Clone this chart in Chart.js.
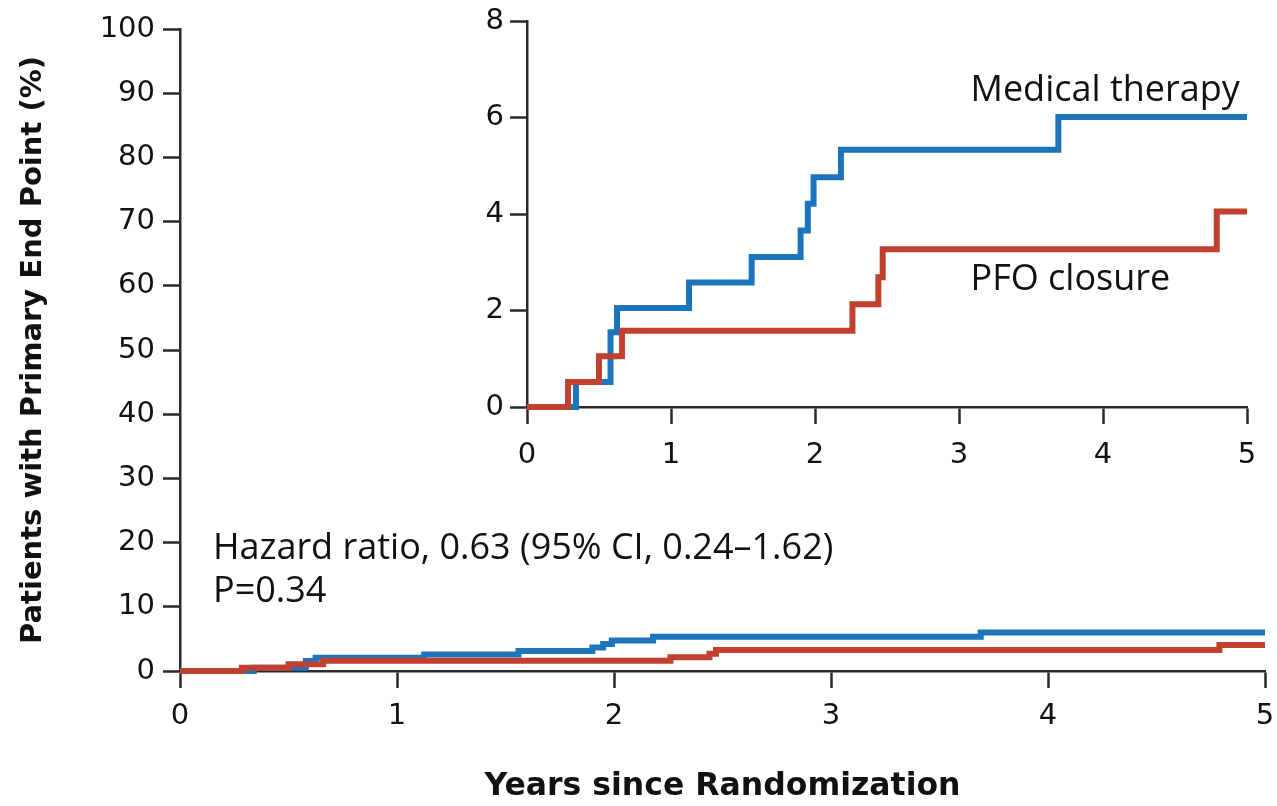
<!DOCTYPE html>
<html>
<head>
<meta charset="utf-8">
<script src="https://cdn.jsdelivr.net/npm/chart.js@4.4.1/dist/chart.umd.min.js"></script>
<style>
  html, body { margin: 0; padding: 0; background: #fff; }
  #wrap { position: relative; width: 1277px; height: 806px; }
  #mainChart { position: absolute; left: 0; top: 0; }
  #insetChart { position: absolute; left: 440px; top: 0; }
</style>
</head>
<body>
<div id="wrap">
  <canvas id="mainChart" width="1277" height="806"></canvas>
  <canvas id="insetChart" width="837" height="470"></canvas>
</div>
<script>
// Kaplan-Meier steps (years, % with primary end point)
const medicalYears = [0, 0.34, 0.58, 0.625, 1.125, 1.56, 1.90, 1.95, 1.99, 2.18, 3.69, 5];
const medicalPct   = [0, 0.52, 1.55, 2.05, 2.58, 3.11, 3.66, 4.21, 4.76, 5.33, 6.01, 6.01];
const closureYears = [0, 0.285, 0.5, 0.66, 2.26, 2.44, 2.47, 4.79, 5];
const closurePct   = [0, 0.52, 1.05, 1.58, 2.13, 2.69, 3.27, 4.05, 4.05];

const xTicks = [0, 1, 2, 3, 4, 5];
const mainYTicks = [0, 10, 20, 30, 40, 50, 60, 70, 80, 90, 100];
const insetYTicks = [0, 2, 4, 6, 8];

// text labels: [text, x (years), y (%)]
const mainNotes = [
  ['Hazard ratio, 0.63 (95% CI, 0.24\u20131.62)', 0.152, 19.0],
  ['P=0.34', 0.152, 12.3]
];
const insetNotes = [
  ['Medical therapy', 3.08, 6.56],
  ['PFO closure', 3.08, 2.64]
];

const BLUE = '#1c75bc';
const RED = '#c1402f';
const AXIS = '#2a2a2a';
const tickFont = { family: '"DejaVu Sans", sans-serif', size: 29 };
const xTitleFont = { family: '"DejaVu Sans", sans-serif', size: 31.5, weight: 'bold' };
const yTitleFont = { family: '"DejaVu Sans", sans-serif', size: 29, weight: 'bold' };
const noteFont = '36px "Open Sans", Lato, sans-serif';

function points(xs, ys) {
  return xs.map((x, i) => ({ x: x, y: ys[i] }));
}

function datasets() {
  return [
    { label: 'PFO closure', data: points(closureYears, closurePct), borderColor: RED },
    { label: 'Medical therapy', data: points(medicalYears, medicalPct), borderColor: BLUE }
  ].map(d => Object.assign(d, {
    borderWidth: 6, pointRadius: 0, stepped: true, fill: false, clip: false
  }));
}

function notesPlugin(notes) {
  return {
    id: 'notes',
    afterDraw(chart) {
      const ctx = chart.ctx;
      ctx.save();
      ctx.font = noteFont;
      ctx.fillStyle = '#111';
      ctx.textAlign = 'left';
      ctx.textBaseline = 'middle';
      notes.forEach(n => {
        ctx.fillText(n[0], chart.scales.x.getPixelForValue(n[1]), chart.scales.y.getPixelForValue(n[2]));
      });
      ctx.restore();
    }
  };
}

function axis(ticks, min, max, pad, extra) {
  return Object.assign({
    type: 'linear',
    min: min,
    max: max,
    afterBuildTicks: s => { s.ticks = ticks.map(v => ({ value: v })); },
    ticks: { font: tickFont, color: '#111', padding: pad, autoSkip: false, maxRotation: 0 },
    grid: { drawOnChartArea: false, drawTicks: true, tickLength: 17, tickWidth: 2.5, tickColor: AXIS },
    border: { display: true, color: AXIS, width: 2.5 }
  }, extra);
}

// x scales: fixed height, no extra side padding from the end labels
function xFit(h) {
  return s => { s.height = h; s.paddingLeft = 0; s.paddingRight = 0; };
}
function yFit(w) {
  return s => { s.width = w; s.paddingTop = 0; s.paddingBottom = 0; };
}

// --- main chart, 0-100 % ---
new Chart(document.getElementById('mainChart'), {
  type: 'line',
  data: { datasets: datasets() },
  options: {
    responsive: false,
    animation: false,
    layout: { padding: { top: 29, right: 12, left: 0, bottom: 0 } },
    plugins: { legend: { display: false }, tooltip: { enabled: false } },
    scales: {
      x: axis(xTicks, 0, 5, 11, {
        title: { display: true, text: 'Years since Randomization', font: xTitleFont, color: '#111', padding: { top: 0, bottom: 0 } },
        afterFit: xFit(135)
      }),
      y: axis(mainYTicks, 0, 100, 8, {
        title: { display: true, text: 'Patients with Primary End Point (%)', font: yTitleFont, color: '#111', padding: { top: 16, bottom: 0 } },
        afterFit: yFit(180)
      })
    }
  },
  plugins: [notesPlugin(mainNotes)]
});

// --- inset, 0-8 % ---
new Chart(document.getElementById('insetChart'), {
  type: 'line',
  data: { datasets: datasets() },
  options: {
    responsive: false,
    animation: false,
    layout: { padding: { top: 21, right: 30, left: 0, bottom: 0 } },
    plugins: { legend: { display: false }, tooltip: { enabled: false } },
    scales: {
      x: axis(xTicks, 0, 5, 14, { afterFit: xFit(63) }),
      y: axis(insetYTicks, 0, 8, 6, { afterFit: yFit(87) })
    }
  },
  plugins: [notesPlugin(insetNotes)]
});
</script>
</body>
</html>
